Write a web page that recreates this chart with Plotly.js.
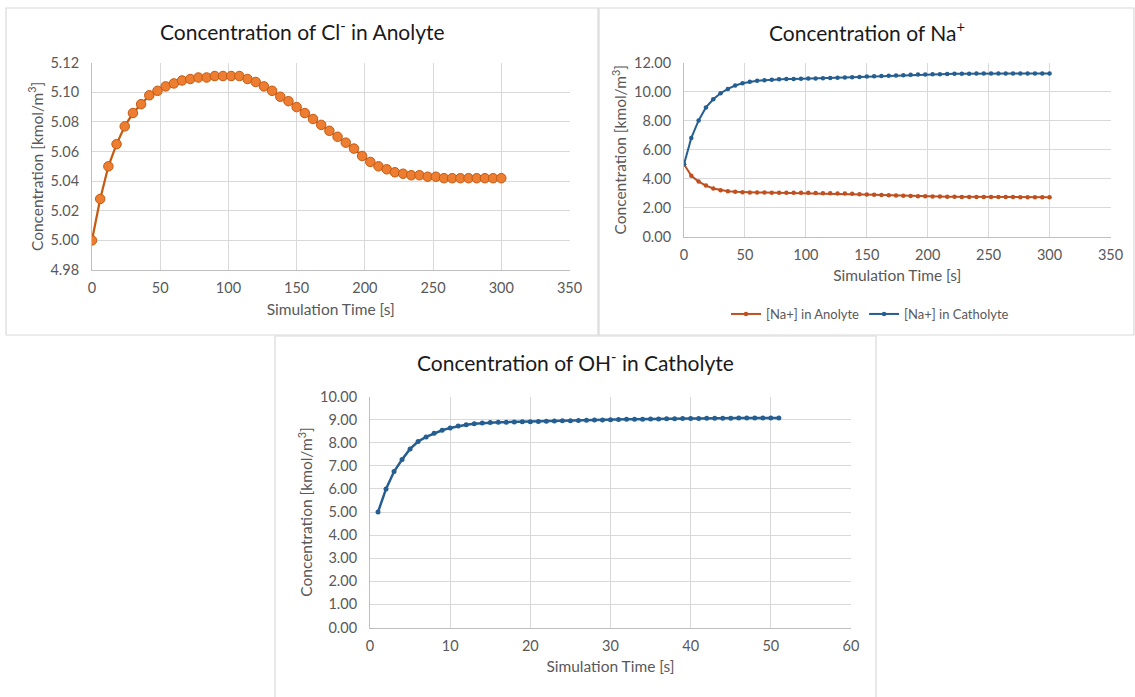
<!DOCTYPE html>
<html>
<head>
<meta charset="utf-8">
<script src="https://cdn.plot.ly/plotly-3.0.1.min.js"></script>
<style>html,body{margin:0;padding:0;background:#fff;}#chart{width:1135px;height:697px;}</style>
</head>
<body>
<div id="chart"></div>
<script>
// ---------- data ----------
const timeCl = [0,6,12,18,24,30,36,42,48,54,60,66,72,78,84,90,96,102,108,114,120,126,132,138,144,150,156,162,168,174,180,186,192,198,204,210,216,222,228,234,240,246,252,258,264,270,276,282,288,294,300];
const clAnolyte = [5.000,5.028,5.050,5.065,5.077,5.086,5.092,5.098,5.101,5.104,5.106,5.108,5.109,5.110,5.110,5.111,5.111,5.111,5.111,5.109,5.107,5.104,5.101,5.097,5.094,5.090,5.086,5.082,5.078,5.074,5.070,5.066,5.062,5.057,5.053,5.050,5.048,5.046,5.045,5.044,5.044,5.043,5.043,5.042,5.042,5.042,5.042,5.042,5.042,5.042,5.042];

const timeNa = [0,6,12,18,24,30,36,42,48,54,60,66,72,78,84,90,96,102,108,114,120,126,132,138,144,150,156,162,168,174,180,186,192,198,204,210,216,222,228,234,240,246,252,258,264,270,276,282,288,294,300];
const naAnolyte = [5.00,4.20,3.80,3.52,3.32,3.20,3.13,3.09,3.06,3.05,3.04,3.04,3.03,3.03,3.03,3.03,3.02,3.02,3.01,3.00,2.99,2.98,2.97,2.95,2.93,2.91,2.89,2.87,2.85,2.84,2.82,2.80,2.79,2.78,2.77,2.76,2.75,2.75,2.74,2.74,2.74,2.73,2.73,2.73,2.73,2.73,2.72,2.72,2.72,2.72,2.72];
const naCatholyte = [5.00,6.82,8.03,8.93,9.49,9.91,10.21,10.44,10.60,10.70,10.77,10.81,10.85,10.87,10.89,10.90,10.91,10.92,10.93,10.95,10.96,10.98,11.00,11.02,11.04,11.06,11.08,11.10,11.12,11.14,11.16,11.18,11.20,11.21,11.22,11.23,11.24,11.25,11.26,11.26,11.27,11.27,11.27,11.28,11.28,11.28,11.28,11.28,11.28,11.28,11.28];

const timeOH = [1,2,3,4,5,6,7,8,9,10,11,12,13,14,15,16,17,18,19,20,21,22,23,24,25,26,27,28,29,30,31,32,33,34,35,36,37,38,39,40,41,42,43,44,45,46,47,48,49,50,51];
const ohCatholyte = [5.00,6.00,6.75,7.27,7.73,8.05,8.25,8.41,8.54,8.64,8.72,8.78,8.82,8.85,8.87,8.88,8.89,8.90,8.91,8.91,8.92,8.93,8.94,8.95,8.95,8.96,8.97,8.98,8.98,8.99,9.00,9.01,9.01,9.02,9.03,9.03,9.04,9.04,9.05,9.05,9.05,9.06,9.06,9.06,9.06,9.07,9.07,9.07,9.07,9.07,9.07];

const titles = ["Concentration of Cl<sup>-</sup> in Anolyte", "Concentration of Na<sup>+</sup>", "Concentration of OH<sup>-</sup> in Catholyte"];
const xTitle = "Simulation Time [s]";
const yTitle = "Concentration [kmol/m<sup>3</sup>]";
const legendNames = ["[Na+] in Anolyte", "[Na+] in Catholyte"];

// ---------- layout helpers ----------
const W = 1135, H = 697;
const px = v => v / W;
const py = v => 1 - v / H;
const FONT = "Lato, 'Open Sans', sans-serif";
const TXT = "#595959";

function xax(d0, d1, range, dtick, anchor) {
  return {domain:[px(d0), px(d1)], range:range, dtick:dtick, tick0:0, anchor:anchor,
    showgrid:true, gridcolor:"#d9d9d9", gridwidth:1, zeroline:false,
    showline:true, linecolor:"#bfbfbf", linewidth:1, ticks:"", ticklabelstandoff:5,
    tickfont:{family:FONT, size:14.5, color:TXT},
    title:{text:xTitle, font:{family:FONT, size:15.5, color:TXT}, standoff:8}};
}
function yax(d0, d1, range, dtick, fmt, anchor) {
  return {domain:[py(d1), py(d0)], range:range, dtick:dtick, tick0:0, anchor:anchor,
    tickformat:fmt, showgrid:true, gridcolor:"#d9d9d9", gridwidth:1, zeroline:false,
    showline:true, linecolor:"#bfbfbf", linewidth:1, ticks:"", ticklabelstandoff:9,
    tickfont:{family:FONT, size:14.5, color:TXT},
    title:{text:yTitle, font:{family:FONT, size:15.5, color:TXT}, standoff:3}};
}

const traces = [
  {x:timeCl, y:clAnolyte, xaxis:"x", yaxis:"y", type:"scatter", mode:"lines+markers", showlegend:false,
   line:{color:"#C55A11", width:2.25},
   marker:{size:9.5, color:"#ED7D31", line:{color:"#C55A11", width:1}}},
  {x:timeNa, y:naAnolyte, xaxis:"x2", yaxis:"y2", type:"scatter", mode:"lines+markers", name:legendNames[0],
   line:{color:"#C0501F", width:2}, marker:{size:4.5, color:"#C0501F"}},
  {x:timeNa, y:naCatholyte, xaxis:"x2", yaxis:"y2", type:"scatter", mode:"lines+markers", name:legendNames[1],
   line:{color:"#255E91", width:2}, marker:{size:4.5, color:"#255E91"}},
  {x:timeOH, y:ohCatholyte, xaxis:"x3", yaxis:"y3", type:"scatter", mode:"lines+markers", showlegend:false,
   line:{color:"#255E91", width:2.5}, marker:{size:5, color:"#255E91"}}
];

const border = (x0,y0,x1,y1) => ({type:"rect", xref:"paper", yref:"paper",
  x0:px(x0), x1:px(x1), y0:py(y1), y1:py(y0), line:{color:"#d9d9d9", width:1.2}, layer:"below"});

const titleAnn = (t, x, y) => ({text:t, x:px(x), y:py(y), xref:"paper", yref:"paper",
  xanchor:"center", yanchor:"middle", showarrow:false, font:{family:FONT, size:21, color:"#1a1a1a"}});

const layout = {
  width:W, height:H, margin:{l:0, r:0, t:0, b:0},
  paper_bgcolor:"#fff", plot_bgcolor:"#fff",
  font:{family:FONT, color:TXT},
  xaxis:  xax(92, 569.5, [0,350], 50, "y"),
  yaxis:  yax(62.7, 270, [4.98,5.12], 0.02, ".2f", "x"),
  xaxis2: xax(684, 1110.5, [0,350], 50, "y2"),
  yaxis2: yax(63, 236.5, [0,12], 2, ".2f", "x2"),
  xaxis3: xax(370, 851, [0,60], 10, "y3"),
  yaxis3: yax(396.5, 627.5, [0,10], 1, ".2f", "x3"),
  shapes:[border(6,8,598,335), border(599,8,1134,335), border(275,336,876,700)],
  annotations:[titleAnn(titles[0], 302, 30), titleAnn(titles[1], 867, 31.5), titleAnn(titles[2], 575, 360.5)],
  showlegend:true,
  legend:{orientation:"h", x:px(870), y:py(314), xanchor:"center", yanchor:"middle",
    font:{family:FONT, size:13, color:TXT}, bgcolor:"rgba(0,0,0,0)"}
};

Plotly.newPlot("chart", traces, layout, {displayModeBar:false, staticPlot:true});
</script>
</body>
</html>
